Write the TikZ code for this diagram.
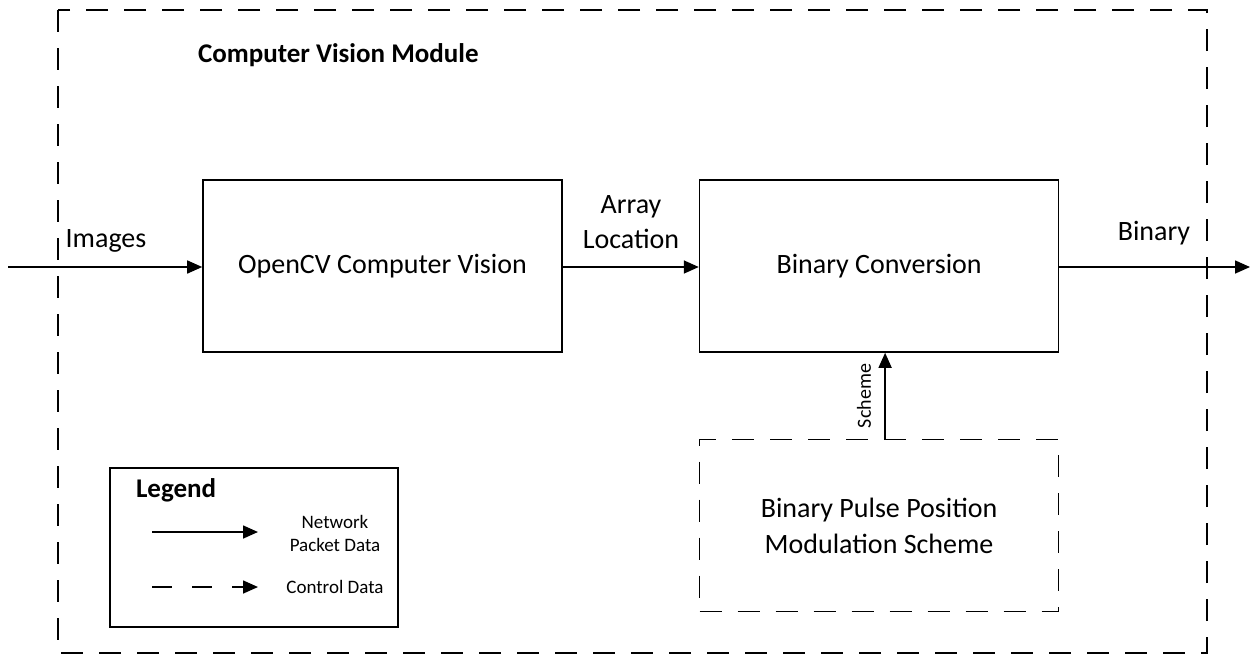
\documentclass[tikz,border=0pt]{standalone}
\usepackage{fontspec}
\setmainfont{Carlito}
\usetikzlibrary{positioning,calc,arrows.meta}

\tikzset{
  block/.style={draw=black,line width=0.8pt,minimum width=179.5pt,minimum height=86pt,align=center,font=\fontsize{14}{18}\selectfont},
  ctrlblock/.style={block,dash pattern=on 11pt off 8pt},
  flow/.style={-{Triangle[length=7.5pt,width=6.5pt]},line width=0.8pt},
  ctrlflow/.style={flow,dash pattern=on 10pt off 10pt},
  lbl/.style={align=center,font=\fontsize{14}{17.5}\selectfont},
  smalllbl/.style={align=center,font=\fontsize{9.5}{11.5}\selectfont},
}

\begin{document}
\begin{tikzpicture}[x=0.5pt,y=-0.5pt]
	\useasboundingbox (0,0) rectangle (1253,655);
	% module frame
	\draw[line width=0.8pt,dash pattern=on 11pt off 8pt] (58,10) rectangle (1207,653);
	\node[anchor=west,font=\fontsize{13.5}{16}\selectfont\bfseries] (title) at (191,55) {Computer Vision Module};
	
	% blocks
	\node[block] (cv) at (382.5,266) {OpenCV Computer Vision};
	\node[block,right=68pt of cv] (bc) {Binary Conversion};
	\node[ctrlblock,below=43pt of bc] (bppm) {Binary Pulse Position\\Modulation Scheme};
	
	% data flow
	\coordinate (in) at (8,267);
	\coordinate (out) at (1250,267);
	\draw[flow] (in)--(cv.west|-in);
	\draw[flow] (cv.east|-in)--(bc.west|-in);
	\draw[flow] (bc.east|-in)--(out);
	\draw[flow] ([xshift=3pt]bppm.north)--([xshift=3pt]bc.south);
	
	\node[lbl] (images) at (106,241) {Images};
	\node[lbl] (arrloc) at (631,222) {Array\\Location};
	\node[lbl] (binary) at (1154,233) {Binary};
	\node[smalllbl,rotate=90,font=\fontsize{10}{12}\selectfont] (scheme) at (864,396) {Scheme};
	
	% legend
	\node[draw=black,line width=0.8pt,minimum width=144pt,minimum height=79.5pt] (legend) at (254,547.5) {};
	\node[anchor=west,font=\fontsize{13.5}{16}\selectfont\bfseries] (legtitle) at (129,490) {Legend};
	\coordinate (l1a) at (152,532);
	\coordinate (l1b) at (258,532);
	\coordinate (l2a) at (152,587);
	\coordinate (l2b) at (258,587);
	\draw[flow] (l1a)--(l1b);
	\draw[ctrlflow] (l2a)--(l2b);
	\node[smalllbl] (legnet) at (335,533) {Network\\Packet Data};
	\node[smalllbl] (legctrl) at (335,587) {Control Data};
\end{tikzpicture}
\end{document}
